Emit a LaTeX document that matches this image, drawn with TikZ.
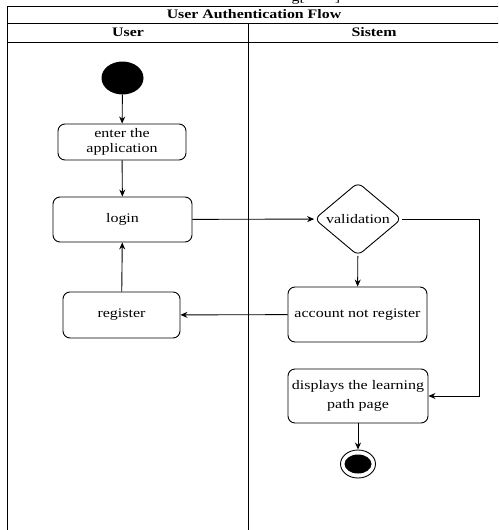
\documentclass[tikz,border=0pt]{standalone}
\usepackage{fontspec}
\setmainfont{Liberation Serif}[FakeStretch=1.22]
\usetikzlibrary{arrows.meta,shapes.geometric}
\begin{document}
\begin{tikzpicture}[x=1pt,y=-1pt,
  every node/.style={font=\fontsize{13.1}{16}\selectfont},
  actbox/.style={draw, rounded corners=7pt, line width=0.9pt, align=center, inner sep=0pt},
  flow/.style={line width=0.9pt, -{Stealth[length=7pt,width=6pt]}},
  lane/.style={line width=1pt}]
\useasboundingbox (0,0) rectangle (498,530);
\clip (0,0) rectangle (498,530);
% clipped caption fragment at top
\node[anchor=base, inner sep=0pt] (cap) at (316,1.5) {g[\hspace{30pt}]};
% swimlane frame
\draw[lane] (7,6) rectangle (500,540);
\draw[lane] (7,23) -- (500,23);
\draw[lane] (7,42) -- (500,42);
\draw[lane] (248.5,23) -- (248.5,540);
\node[font=\fontsize{13}{14}\selectfont\bfseries] (title) at (254,14.5) {User Authentication Flow};
\node[font=\fontsize{13}{14}\selectfont\bfseries] (luser) at (128,32.5) {User};
\node[font=\fontsize{13}{14}\selectfont\bfseries] (lsys) at (374,32.5) {Sistem};
% nodes
\node[ellipse, fill=black, minimum width=42pt, minimum height=33pt, inner sep=0pt] (start) at (122.5,78) {};
\node[actbox, minimum width=128pt, minimum height=36pt, font=\fontsize{13.1}{15.5}\selectfont] (enter) at (122,142) {enter the\\application};
\node[actbox, minimum width=139pt, minimum height=45pt] (login) at (122.5,219.5) {login};
\node[actbox, minimum width=117pt, minimum height=46pt] (register) at (121.5,315) {register};
\node[diamond, draw, line width=0.9pt, rounded corners=6pt, minimum width=87pt, minimum height=68pt, inner sep=0pt] (valid) at (358,219) {validation};
\node[actbox, minimum width=139pt, minimum height=55pt] (account) at (357.5,314.5) {account not register};
\node[actbox, minimum width=140pt, minimum height=54pt, font=\fontsize{13.1}{19}\selectfont] (disp) at (358,396) {displays the learning\\path page};
\node[ellipse, draw, line width=0.9pt, minimum width=35pt, minimum height=28pt, inner sep=0pt] (end) at (358,464) {};
\fill (end.center) ellipse [x radius=13.5pt, y radius=9.5pt];
\coordinate (turn) at (479,219);
% connectors
\draw[flow] (start) -- (enter);
\draw[flow] (enter) -- (login);
\draw[flow] (login) -- (valid);
\draw[flow] (valid) -- (account);
\draw[flow] (account) -- (register);
\draw[flow] (register) -- (login);
\draw[flow] (valid.east) -- (turn) |- (disp.east);
\draw[flow] (disp) -- (end);
\end{tikzpicture}
\end{document}
